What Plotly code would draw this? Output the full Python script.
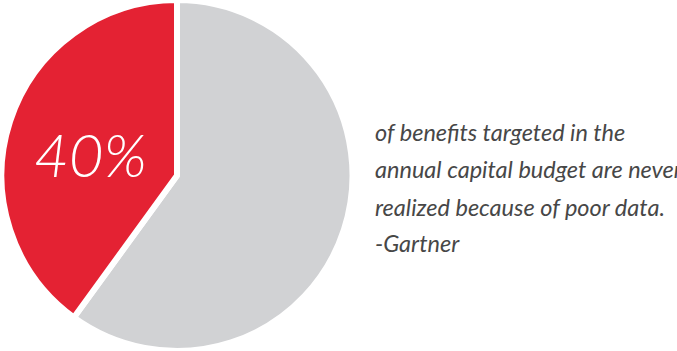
import plotly.graph_objects as go

# Data
labels = ["Other", "Benefits never realized"]
values = [60, 40]
colors = ["#D1D2D4", "#E42233"]
caption_lines = [
    "of benefits targeted in the",
    "annual capital budget are never",
    "realized because of poor data.",
    "-Gartner",
]

W, H = 677, 351
cx, r = 177, 175.5

fig = go.Figure(
    go.Pie(
        labels=labels,
        values=values,
        sort=False,
        direction="clockwise",
        rotation=0,
        marker=dict(colors=colors, line=dict(color="white", width=6)),
        textinfo="none",
        hoverinfo="none",
        domain=dict(x=[(cx - r) / W, (cx + r) / W], y=[0, 1]),
    )
)

annotations = [
    dict(
        text=f"{values[1]}%",
        x=90 / W, y=1 - 154 / H,
        xref="paper", yref="paper",
        xanchor="center", yanchor="middle",
        showarrow=False,
        font=dict(family="Lato", size=60, color="white", style="italic", weight=300),
    )
]
line_y = [131.7, 169.3, 206.7, 243.3]
for t, yy in zip(caption_lines, line_y):
    annotations.append(
        dict(
            text=t,
            x=373 / W, y=1 - yy / H,
            xref="paper", yref="paper",
            xanchor="left", yanchor="middle",
            showarrow=False,
            font=dict(family="Lato", size=23.5, color="#474747", style="italic"),
        )
    )

fig.update_layout(
    width=W, height=H,
    margin=dict(l=0, r=0, t=0, b=0),
    paper_bgcolor="white",
    plot_bgcolor="white",
    showlegend=False,
    annotations=annotations,
)

fig.write_html("out.html")
